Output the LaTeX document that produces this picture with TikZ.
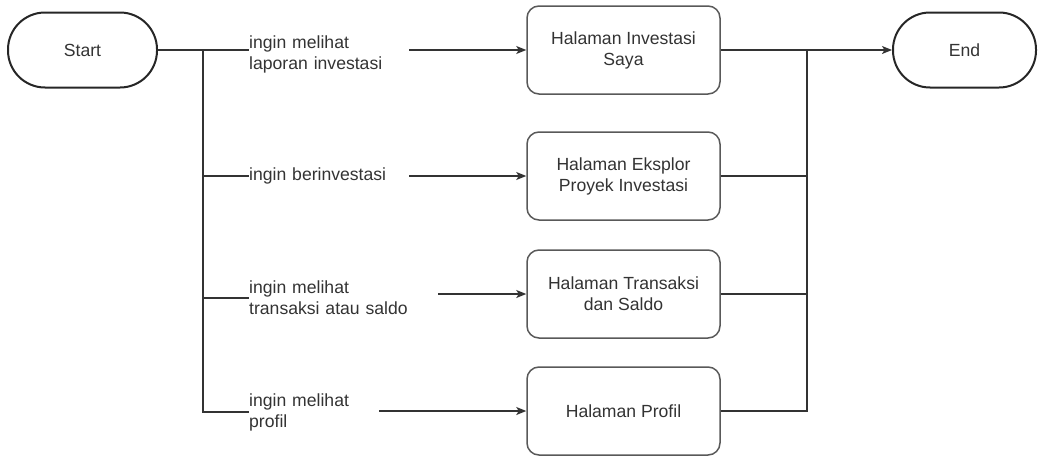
\documentclass[tikz,border=0pt]{standalone}
\usepackage{fontspec}
\setmainfont{Liberation Sans}
\usetikzlibrary{arrows.meta}
\begin{document}
\begin{tikzpicture}[x=1pt,y=-1pt,font=\fontsize{17.6}{21}\selectfont,
txt/.style={text=black!80},
term/.style={draw=black!85,line width=2pt,rounded corners=37pt,minimum width=149pt,minimum height=75pt,txt},
page/.style={draw=black!65,line width=1.5pt,rounded corners=12pt,minimum width=193pt,minimum height=88pt,align=center,txt},
lbl/.style={anchor=west,inner xsep=0pt,align=left,txt},
conn/.style={draw=black!80,line width=1.4pt},
arr/.style={conn,-{Stealth[length=10pt,width=8pt,inset=2.5pt]}}]
\useasboundingbox (0,0) rectangle (1038,455);
\node[term] (st) at (82.5,50) {Start};
\node[term,minimum width=143pt] (en) at (964.5,50) {End};
\foreach [count=\Z] \Y/\T in {50/{Halaman Investasi\\Saya},176/{Halaman Eksplor\\Proyek Investasi},294/{Halaman Transaksi\\dan Saldo},411/{Halaman Profil}}
{\node[page] (b\Z) at (623.5,\Y) {\T};}
\foreach [count=\Z] \Y/\W/\T in {54/160/{ingin melihat\\laporan investasi},176/160/{ingin berinvestasi},298/189/{ingin melihat\\transaksi atau saldo},412/130/{ingin melihat\\profil}}
{\node[lbl,text width=\W pt] (l\Z) at (249,\Y) {\T};}
\coordinate (jl) at (203,50);
\coordinate (jr) at (807,50);
% left side: start splits to the four choices
\draw[conn] (st.east) -- (st.east -| l1.west);
\draw[conn] (jl) |- (l4.west);
\foreach \Z in {2,3}
{\draw[conn] (jl |- l\Z.west) -- (l\Z.west);}
\foreach \Z in {1,...,4}
{\draw[arr] (l\Z.east |- b\Z.west) -- (b\Z.west);}
% right side: all pages lead to end
\draw[arr] (b1.east) -- (en.west);
\draw[conn] (jr) |- (b4.east);
\foreach \Z in {2,3}
{\draw[conn] (b\Z.east) -- (b\Z.east -| jr);}
\end{tikzpicture}
\end{document}
